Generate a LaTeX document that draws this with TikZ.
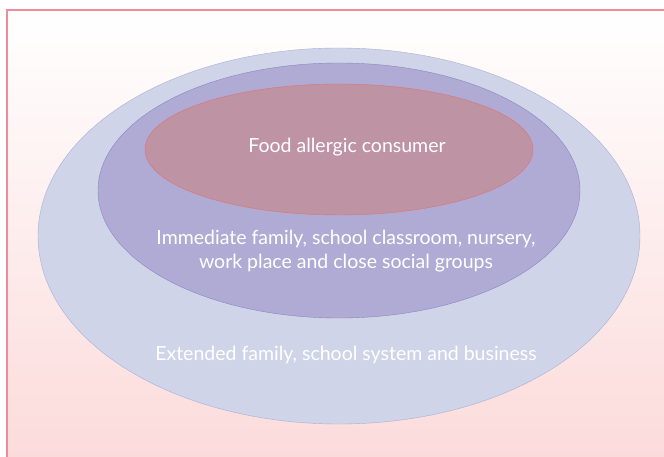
\documentclass[tikz,border=0pt]{standalone}
\usepackage{fontspec}
\setmainfont{Lato}

\definecolor{framepink}{HTML}{EE8C9A}
\definecolor{bgpink}{HTML}{FCDADA}
\definecolor{outerfill}{HTML}{D0D4E8}
\definecolor{outerline}{HTML}{A8AED6}
\definecolor{midfill}{HTML}{B0ABD4}
\definecolor{midline}{HTML}{8A84C2}
\definecolor{innerfill}{HTML}{BE93A4}
\definecolor{innerline}{HTML}{E07272}

\tikzset{
  ringtext/.style={text=white, align=center, font=\fontsize{19.5}{24}\selectfont}
}

\begin{document}
\begin{tikzpicture}[x=1pt,y=-1pt]
      \useasboundingbox (0,0) rectangle (664,457);
      \clip (0,0) rectangle (664,457);
      % page background with a soft pink fade
      \fill[top color=white, bottom color=bgpink] (7,10) rectangle (680,470);
      \draw[line width=1.5pt, framepink] (7,10) rectangle (680,470);
      % three nested circles of exposure
      \filldraw[fill=outerfill, draw=outerline] (339,236) ellipse [x radius=301, y radius=188];
      \filldraw[fill=midfill, draw=midline] (339,190.5) ellipse [x radius=241, y radius=127.5];
      \filldraw[fill=innerfill, draw=innerline] (339,149.5) ellipse [x radius=194, y radius=65.5];
      \node[ringtext] (consumer) at (347,147) {Food allergic consumer};
      \node[ringtext] (family) at (346,251) {Immediate family, school classroom, nursery,\\work place and close social groups};
      \node[ringtext] (extended) at (346,355) {Extended family, school system and business};
    \end{tikzpicture}
\end{document}
